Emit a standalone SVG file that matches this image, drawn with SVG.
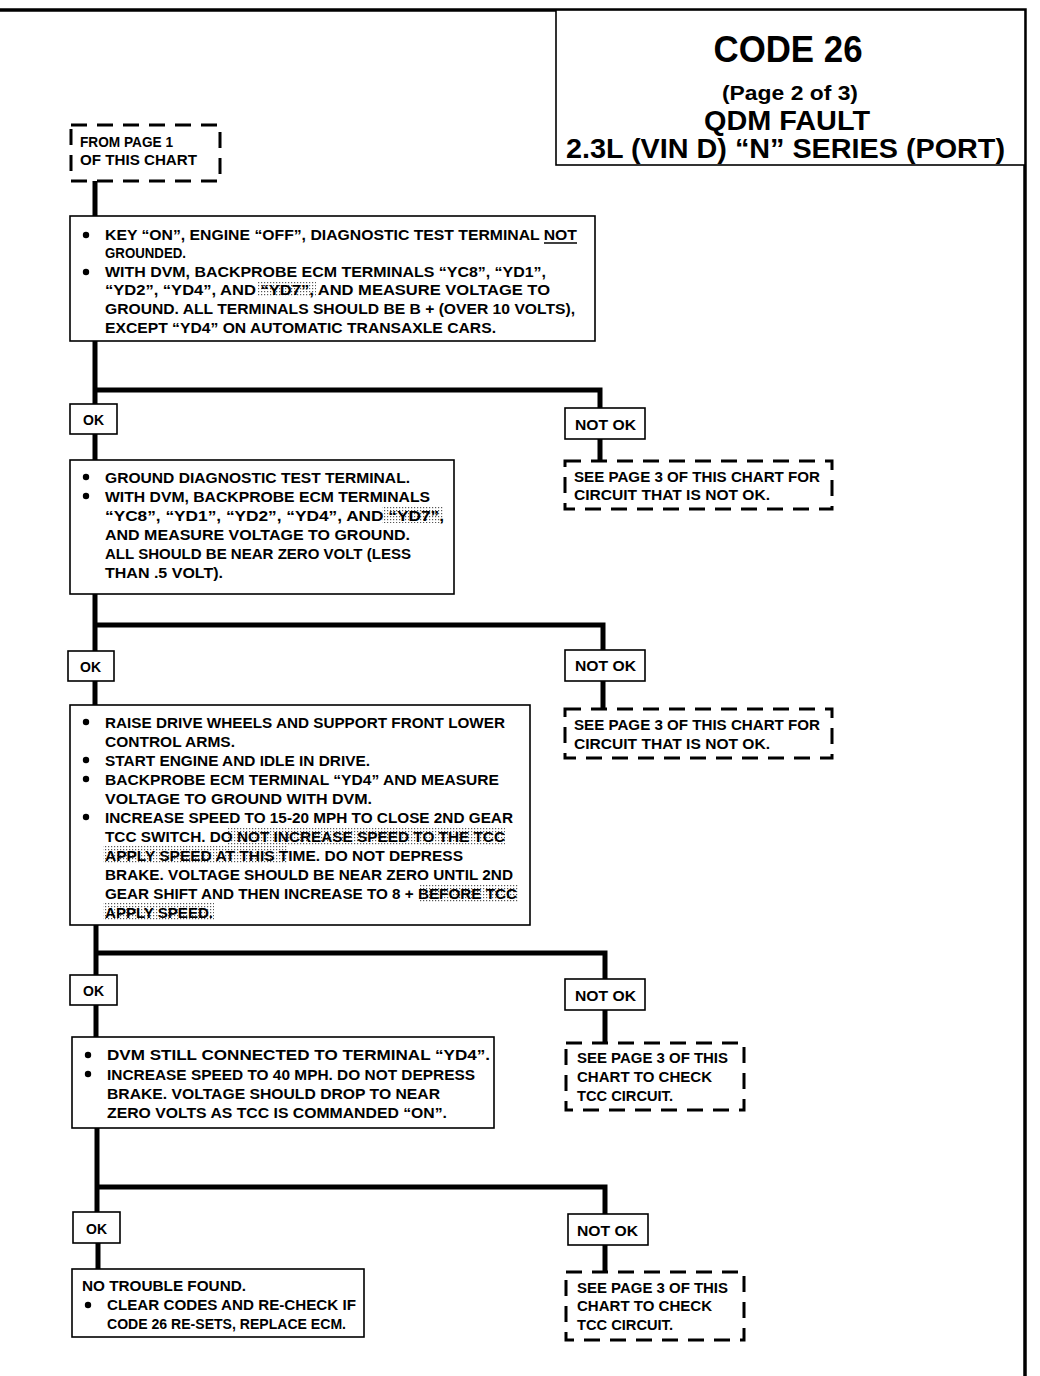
<svg xmlns="http://www.w3.org/2000/svg" width="1040" height="1376" viewBox="0 0 1040 1376">
<defs>
<pattern id="screen" width="3" height="3" patternUnits="userSpaceOnUse"><rect width="3" height="3" fill="#fff"/><rect width="1.2" height="1.2" fill="#555"/></pattern>
<style>
text{font-family:"Liberation Sans",Arial,sans-serif;font-weight:bold;fill:#000}
.t{font-size:14px}
.box{fill:#fff;stroke:#000;stroke-width:1.6}
.dash{fill:#fff;stroke:#000;stroke-width:3;stroke-dasharray:16 10}
.conn{stroke:#000;stroke-width:5;fill:none}
.frame{stroke:#000;stroke-width:3.5;fill:none}
.hl{fill:url(#screen)}
</style>
</defs>
<rect width="1040" height="1376" fill="#fff"/>
<path class="frame" d="M0,10 H1025 V1376"/>

<g id="header">
<rect x="556" y="10" width="469" height="155" fill="#fff" stroke="#000" stroke-width="1.6"/>
<text x="788" y="62" text-anchor="middle" font-size="36" textLength="149" lengthAdjust="spacingAndGlyphs">CODE 26</text>
<text x="790" y="100" text-anchor="middle" font-size="21" textLength="136" lengthAdjust="spacingAndGlyphs">(Page 2 of 3)</text>
<text x="787" y="130" text-anchor="middle" font-size="28" textLength="166" lengthAdjust="spacingAndGlyphs">QDM FAULT</text>
<text x="566" y="158" font-size="27" textLength="439" lengthAdjust="spacingAndGlyphs">2.3L  (VIN D)  “N”  SERIES  (PORT)</text>
</g>

<g id="connectors">
<path class="conn" d="M95,181 V216 M95,341 V404 M95,390 H600 V408 M600,439 V460 M95,434 V460"/>
<path class="conn" d="M95,594 V651 M95,625 H603 V650 M603,681 V708 M95,681 V705"/>
<path class="conn" d="M96,925 V975 M96,953 H605 V979 M605,1010 V1042 M96,1005 V1037"/>
<path class="conn" d="M97,1128 V1212 M97,1187 H605 V1214 M605,1245 V1271 M98,1243 V1269"/>
</g>

<g id="start">
<rect class="dash" x="71" y="125" width="149" height="56"/>
<text class="t" x="80" y="147" textLength="93" lengthAdjust="spacingAndGlyphs">FROM PAGE 1</text>
<text class="t" x="80" y="165" textLength="117" lengthAdjust="spacingAndGlyphs">OF THIS CHART</text>
</g>

<g id="step1">
<rect class="box" x="70" y="216" width="525" height="125"/>
<rect class="hl" x="258" y="281" width="58" height="16"/>
<circle cx="86" cy="235" r="3.2"/><circle cx="86" cy="272" r="3.2"/>
<text class="t" x="105" y="240" textLength="472" lengthAdjust="spacingAndGlyphs">KEY “ON”, ENGINE “OFF”, DIAGNOSTIC TEST TERMINAL NOT</text>
<line x1="544" y1="243" x2="577" y2="243" stroke="#000" stroke-width="1.5"/>
<text class="t" x="105" y="258" textLength="81" lengthAdjust="spacingAndGlyphs">GROUNDED.</text>
<text class="t" x="105" y="277" textLength="441" lengthAdjust="spacingAndGlyphs">WITH DVM, BACKPROBE ECM TERMINALS “YC8”, “YD1”,</text>
<text class="t" x="105" y="295" textLength="445" lengthAdjust="spacingAndGlyphs">“YD2”, “YD4”, AND “YD7”,  AND MEASURE VOLTAGE TO</text>
<text class="t" x="105" y="314" textLength="470" lengthAdjust="spacingAndGlyphs">GROUND.  ALL TERMINALS SHOULD BE B + (OVER 10 VOLTS),</text>
<text class="t" x="105" y="333" textLength="391" lengthAdjust="spacingAndGlyphs">EXCEPT “YD4” ON AUTOMATIC TRANSAXLE CARS.</text>
</g>

<g id="ok1">
<rect class="box" x="70" y="404" width="47" height="30"/>
<text class="t" x="83" y="425" textLength="21" lengthAdjust="spacingAndGlyphs">OK</text>
</g>
<g id="notok1">
<rect class="box" x="565" y="408" width="80" height="31"/>
<text class="t" x="575" y="430" textLength="61" lengthAdjust="spacingAndGlyphs">NOT OK</text>
</g>
<g id="see1">
<rect class="dash" x="565" y="461" width="267" height="48"/>
<text class="t" x="574" y="482" textLength="246" lengthAdjust="spacingAndGlyphs">SEE PAGE 3 OF THIS CHART FOR</text>
<text class="t" x="574" y="500" textLength="196" lengthAdjust="spacingAndGlyphs">CIRCUIT THAT IS NOT OK.</text>
</g>

<g id="step2">
<rect class="box" x="70" y="460" width="384" height="134"/>
<rect class="hl" x="382" y="507" width="61" height="16"/>
<circle cx="86" cy="477" r="3.2"/><circle cx="86" cy="496" r="3.2"/>
<text class="t" x="105" y="483" textLength="305" lengthAdjust="spacingAndGlyphs">GROUND DIAGNOSTIC TEST TERMINAL.</text>
<text class="t" x="105" y="502" textLength="325" lengthAdjust="spacingAndGlyphs">WITH  DVM, BACKPROBE ECM TERMINALS</text>
<text class="t" x="105" y="521" textLength="339" lengthAdjust="spacingAndGlyphs">“YC8”, “YD1”, “YD2”, “YD4”,  AND “YD7”,</text>
<text class="t" x="105" y="540" textLength="305" lengthAdjust="spacingAndGlyphs">AND  MEASURE VOLTAGE TO GROUND.</text>
<text class="t" x="105" y="559" textLength="306" lengthAdjust="spacingAndGlyphs">ALL SHOULD BE NEAR ZERO VOLT (LESS</text>
<text class="t" x="105" y="578" textLength="118" lengthAdjust="spacingAndGlyphs">THAN .5 VOLT).</text>
</g>

<g id="ok2">
<rect class="box" x="68" y="651" width="46" height="30"/>
<text class="t" x="80" y="672" textLength="21" lengthAdjust="spacingAndGlyphs">OK</text>
</g>
<g id="notok2">
<rect class="box" x="565" y="650" width="80" height="31"/>
<text class="t" x="575" y="671" textLength="61" lengthAdjust="spacingAndGlyphs">NOT OK</text>
</g>
<g id="see2">
<rect class="dash" x="565" y="709" width="267" height="49"/>
<text class="t" x="574" y="730" textLength="246" lengthAdjust="spacingAndGlyphs">SEE PAGE 3 OF THIS CHART FOR</text>
<text class="t" x="574" y="749" textLength="196" lengthAdjust="spacingAndGlyphs">CIRCUIT THAT IS NOT OK.</text>
</g>

<g id="step3">
<rect class="box" x="70" y="705" width="460" height="220"/>
<rect class="hl" x="228" y="827" width="277" height="18"/>
<rect class="hl" x="103" y="846" width="184" height="18"/>
<rect class="hl" x="419" y="884" width="100" height="18"/>
<rect class="hl" x="103" y="903" width="111" height="18"/>
<circle cx="86" cy="722" r="3.2"/><circle cx="86" cy="760" r="3.2"/><circle cx="86" cy="779" r="3.2"/><circle cx="86" cy="817" r="3.2"/>
<text class="t" x="105" y="728" textLength="400" lengthAdjust="spacingAndGlyphs">RAISE DRIVE WHEELS AND SUPPORT FRONT LOWER</text>
<text class="t" x="105" y="747" textLength="130" lengthAdjust="spacingAndGlyphs">CONTROL ARMS.</text>
<text class="t" x="105" y="766" textLength="265" lengthAdjust="spacingAndGlyphs">START ENGINE AND IDLE IN DRIVE.</text>
<text class="t" x="105" y="785" textLength="394" lengthAdjust="spacingAndGlyphs">BACKPROBE ECM TERMINAL “YD4” AND MEASURE</text>
<text class="t" x="105" y="804" textLength="267" lengthAdjust="spacingAndGlyphs">VOLTAGE TO GROUND WITH DVM.</text>
<text class="t" x="105" y="823" textLength="408" lengthAdjust="spacingAndGlyphs">INCREASE SPEED TO 15-20 MPH TO CLOSE 2ND GEAR</text>
<text class="t" x="105" y="842" textLength="400" lengthAdjust="spacingAndGlyphs">TCC SWITCH.  DO NOT INCREASE SPEED TO THE TCC</text>
<text class="t" x="105" y="861" textLength="358" lengthAdjust="spacingAndGlyphs">APPLY SPEED AT THIS TIME.  DO NOT DEPRESS</text>
<text class="t" x="105" y="880" textLength="408" lengthAdjust="spacingAndGlyphs">BRAKE.  VOLTAGE SHOULD BE NEAR ZERO UNTIL 2ND</text>
<text class="t" x="105" y="899" textLength="412" lengthAdjust="spacingAndGlyphs">GEAR SHIFT AND THEN INCREASE TO 8 + BEFORE TCC</text>
<text class="t" x="105" y="918" textLength="108" lengthAdjust="spacingAndGlyphs">APPLY SPEED.</text>
</g>

<g id="ok3">
<rect class="box" x="70" y="975" width="47" height="30"/>
<text class="t" x="83" y="996" textLength="21" lengthAdjust="spacingAndGlyphs">OK</text>
</g>
<g id="notok3">
<rect class="box" x="565" y="979" width="80" height="31"/>
<text class="t" x="575" y="1001" textLength="61" lengthAdjust="spacingAndGlyphs">NOT OK</text>
</g>
<g id="see3">
<rect class="dash" x="566" y="1043" width="178" height="67"/>
<text class="t" x="577" y="1063" textLength="151" lengthAdjust="spacingAndGlyphs">SEE PAGE 3 OF THIS</text>
<text class="t" x="577" y="1082" textLength="135" lengthAdjust="spacingAndGlyphs">CHART TO CHECK</text>
<text class="t" x="577" y="1101" textLength="96" lengthAdjust="spacingAndGlyphs">TCC CIRCUIT.</text>
</g>

<g id="step4">
<rect class="box" x="72" y="1037" width="422" height="91"/>
<circle cx="88" cy="1055" r="3.2"/><circle cx="88" cy="1074" r="3.2"/>
<text class="t" x="107" y="1060" textLength="383" lengthAdjust="spacingAndGlyphs">DVM STILL CONNECTED TO TERMINAL “YD4”.</text>
<text class="t" x="107" y="1080" textLength="368" lengthAdjust="spacingAndGlyphs">INCREASE SPEED TO 40 MPH.  DO NOT DEPRESS</text>
<text class="t" x="107" y="1099" textLength="333" lengthAdjust="spacingAndGlyphs">BRAKE.  VOLTAGE SHOULD DROP TO NEAR</text>
<text class="t" x="107" y="1118" textLength="340" lengthAdjust="spacingAndGlyphs">ZERO VOLTS AS TCC IS COMMANDED “ON”.</text>
</g>

<g id="ok4">
<rect class="box" x="73" y="1212" width="47" height="31"/>
<text class="t" x="86" y="1234" textLength="21" lengthAdjust="spacingAndGlyphs">OK</text>
</g>
<g id="notok4">
<rect class="box" x="568" y="1214" width="80" height="31"/>
<text class="t" x="577" y="1236" textLength="61" lengthAdjust="spacingAndGlyphs">NOT OK</text>
</g>
<g id="see4">
<rect class="dash" x="566" y="1272" width="178" height="68"/>
<text class="t" x="577" y="1293" textLength="151" lengthAdjust="spacingAndGlyphs">SEE PAGE 3 OF THIS</text>
<text class="t" x="577" y="1311" textLength="135" lengthAdjust="spacingAndGlyphs">CHART TO CHECK</text>
<text class="t" x="577" y="1330" textLength="96" lengthAdjust="spacingAndGlyphs">TCC CIRCUIT.</text>
</g>

<g id="end">
<rect class="box" x="72" y="1269" width="292" height="68"/>
<circle cx="88" cy="1305" r="3.2"/>
<text class="t" x="82" y="1291" textLength="164" lengthAdjust="spacingAndGlyphs">NO TROUBLE FOUND.</text>
<text class="t" x="107" y="1310" textLength="249" lengthAdjust="spacingAndGlyphs">CLEAR CODES  AND RE-CHECK IF</text>
<text class="t" x="107" y="1329" textLength="239" lengthAdjust="spacingAndGlyphs">CODE 26 RE-SETS, REPLACE ECM.</text>
</g>
</svg>
